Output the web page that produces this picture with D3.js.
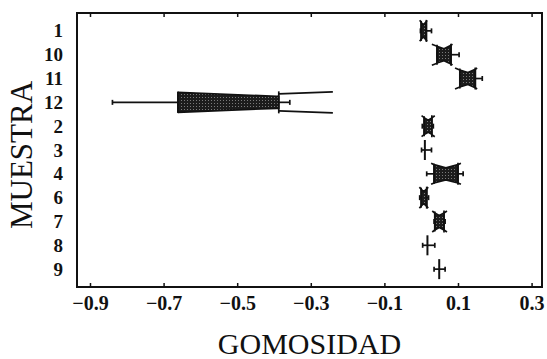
<!DOCTYPE html>
<html><head><meta charset="utf-8">
<script src="https://cdn.jsdelivr.net/npm/d3@7"></script>
<style>body{margin:0;background:#fff}svg{display:block}</style>
</head><body>
<script>
const samples   = ["1","10","11","12","2","3","4","6","7","8","9"];
const whiskerLo = [-0.002, 0.043, 0.105, -0.839, 0.003, 0.001, 0.015, -0.004, 0.035, 0.004, 0.035];
const notchLo   = [-0.004, 0.029, 0.092, -0.662, 0.001, 0.010, 0.027, -0.005, 0.030, 0.017, 0.049];
const q1        = [0.000, 0.043, 0.105, -0.661, 0.008, 0.010, 0.035, 0.000, 0.037, 0.017, 0.049];
const median    = [0.006, 0.062, 0.127, -0.392, 0.019, 0.010, 0.067, 0.007, 0.049, 0.017, 0.049];
const q3        = [0.014, 0.081, 0.147, -0.387, 0.029, 0.010, 0.100, 0.015, 0.062, 0.017, 0.049];
const notchHi   = [0.016, 0.085, 0.152, -0.240, 0.037, 0.010, 0.108, 0.019, 0.070, 0.017, 0.049];
const whiskerHi = [0.028, 0.103, 0.166, -0.357, 0.033, 0.028, 0.114, 0.020, 0.065, 0.037, 0.065];
const xTicks    = [-0.9, -0.7, -0.5, -0.3, -0.1, 0.1, 0.3];

const W = 547, H = 359;
const L = 77, R = 542, T = 13, B = 287;
const svg = d3.select("body").append("svg").attr("width", W).attr("height", H);

const defs = svg.append("defs");
const pat = defs.append("pattern").attr("id","dots").attr("patternUnits","userSpaceOnUse").attr("width",3).attr("height",3);
pat.append("rect").attr("width",3).attr("height",3).attr("fill","#1c1c1c");
pat.append("rect").attr("x",1).attr("y",1).attr("width",1).attr("height",1).attr("fill","#7a7a7a");

const x = d3.scaleLinear().domain([-0.9353, 0.3283]).range([L, R]);
const y = d3.scalePoint().domain(samples).range([T, B]).padding(0.75);

const ink = "#111";
const serif = "'Liberation Serif','Times New Roman',serif";

// frame
svg.append("rect").attr("x", L).attr("y", T).attr("width", R - L).attr("height", B - T)
  .attr("fill", "none").attr("stroke", ink).attr("stroke-width", 2);

// ticks (inside, bottom and top)
const axB = d3.axisBottom(x).tickValues(xTicks).tickSize(-4).tickPadding(9).tickFormat(d3.format(".1f"));
const gB = svg.append("g").attr("transform", `translate(0,${B})`).call(axB);
gB.select(".domain").remove();
gB.selectAll("line").attr("stroke", ink).attr("stroke-width", 1.5);
gB.selectAll("text").attr("font-family", serif).attr("font-size", 20).attr("font-weight", "bold").attr("fill", ink);

const axT = d3.axisTop(x).tickValues(xTicks).tickSize(-4).tickFormat("");
const gT = svg.append("g").attr("transform", `translate(0,${T})`).call(axT);
gT.select(".domain").remove();
gT.selectAll("line").attr("stroke", ink).attr("stroke-width", 1.5);

// y labels
const axL = d3.axisLeft(y).tickSize(0).tickPadding(14);
const gL = svg.append("g").attr("transform", `translate(${L},0)`).call(axL);
gL.select(".domain").remove();
gL.selectAll("text").attr("font-family", serif).attr("font-size", 19).attr("font-weight", "bold").attr("fill", ink);

// axis titles
svg.append("text").attr("x", (L + R) / 2).attr("y", 354).attr("text-anchor", "middle")
  .attr("font-family", serif).attr("font-size", 30).attr("fill", ink).text("GOMOSIDAD");
svg.append("text").attr("transform", `translate(32,155) rotate(-90)`).attr("text-anchor", "middle")
  .attr("font-family", serif).attr("font-size", 31).attr("fill", ink).text("MUESTRA");

// notched boxes
const HH = 10, WAIST = 6, CAP = 2.5, SW = 1.7;
const g = svg.append("g");
samples.forEach((s, i) => {
  const cy = y(s);
  const nl = notchLo[i], md = median[i], nh = notchHi[i], a = q1[i], b = q3[i];
  const half = v => {
    if (v <= nl || v >= nh) return HH;
    if (v <= md) return md === nl ? WAIST : HH + (WAIST - HH) * (v - nl) / (md - nl);
    return nh === md ? WAIST : WAIST + (HH - WAIST) * (v - md) / (nh - md);
  };
  const seg = (x1, y1, x2, y2, w) => g.append("line").attr("x1", x1).attr("y1", y1)
    .attr("x2", x2).attr("y2", y2).attr("stroke", ink).attr("stroke-width", w || SW);
  // whiskers
  seg(x(whiskerLo[i]), cy, x(a), cy);
  seg(x(b), cy, x(whiskerHi[i]), cy);
  [whiskerLo[i], whiskerHi[i]].forEach(v => seg(x(v), cy - CAP, x(v), cy + CAP));
  if (b - a < 1e-9) {
    seg(x(a), cy - HH, x(a), cy + HH, 2);
    return;
  }
  // box polygon
  let xs = [a];
  [nl, md, nh].forEach(v => { if (v > a && v < b) xs.push(v); });
  xs.push(b);
  xs = Array.from(new Set(xs)).sort((p, q) => p - q);
  const pts = xs.map(v => [x(v), cy - half(v)]).concat(xs.slice().reverse().map(v => [x(v), cy + half(v)]));
  g.append("path").attr("d", d3.line()(pts) + "Z").attr("fill", "url(#dots)")
    .attr("stroke", ink).attr("stroke-width", SW).attr("stroke-linejoin", "round");
  // ears where notches extend beyond the box
  if (nl < a) {
    const h0 = Math.max(half(a), HH * 0.85);
    seg(x(a), cy - HH, x(a), cy + HH);
    [-1, 1].forEach(sg => seg(x(nl), cy + sg * HH * 1.05, x(a), cy + sg * h0));
  }
  if (nh > b) {
    const h0 = Math.max(half(b), HH * 0.85);
    seg(x(b), cy - HH * 1.1, x(b), cy + HH * 1.1);
    [-1, 1].forEach(sg => seg(x(b), cy + sg * h0, x(nh), cy + sg * HH * 1.05));
  }
});
</script>
</body></html>
